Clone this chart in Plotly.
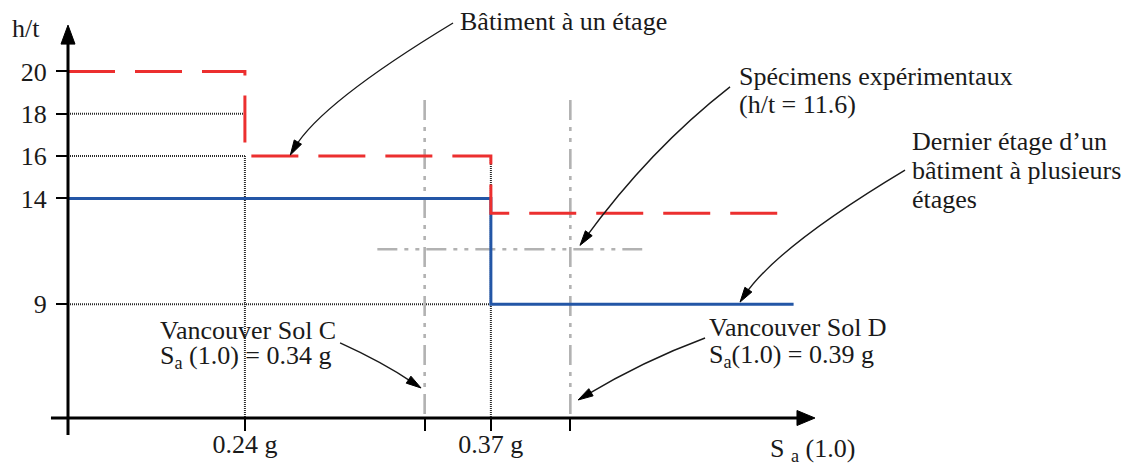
import math
import plotly.graph_objects as go

# ---------------- data ----------------
SA_AXIS_START = 0.1465           # S_a value at the vertical axis
SA_END = 0.53                    # end of the step lines

single_x = [SA_AXIS_START, 0.24, 0.37, SA_END]
single_ht = [20, 16, 13.3, 13.3]          # Bâtiment à un étage

multi_x = [SA_AXIS_START, 0.37, SA_END]
multi_ht = [14, 9, 9]                     # Dernier étage d'un bâtiment à plusieurs étages

site_sa = [0.335, 0.412]                  # Vancouver Sol C / Sol D (drawn positions)
site_top = 18.65
specimen_ht = 11.6
specimen_x = [0.31, 0.45]

ytick_vals = [9, 14, 16, 18, 20]
xtick_vals = [0.24, 0.335, 0.37, 0.412]
xtick_text = ["0.24 g", " ", "0.37 g", " "]

# ---------------- layout constants ----------------
W, H = 1127, 466
ML, MR, MT, MB = 68, 10, 5, 48
X0, X1 = 0.1465, 0.70093
Y0, Y1 = 3.623, 23.14
PW, PH = W - ML - MR, H - MT - MB

FONT = "Liberation Serif"
FS = 26
TXT = "#1a1a1a"
RED = "#ec2f2f"
BLUE = "#2356a6"
GRAY = "#b2b2b2"
DOT = "#2a2a2a"


def xp(v):
    return (v - X0) / (X1 - X0)


def yp(v):
    return (v - Y0) / (Y1 - Y0)


def to_px(x, y):
    return ML + xp(x) * PW, MT + (1 - yp(y)) * PH


def px_to_paper(px, py):
    return (px - ML) / PW, 1 - (py - MT) / PH


fig = go.Figure()

# dotted reference lines
dot_style = dict(color=DOT, width=2, dash="1px,1px")
fig.add_trace(go.Scatter(x=[SA_AXIS_START, 0.24], y=[18, 18], mode="lines", line=dot_style))
fig.add_trace(go.Scatter(x=[SA_AXIS_START, 0.24], y=[16, 16], mode="lines", line=dot_style))
fig.add_trace(go.Scatter(x=[SA_AXIS_START, 0.37], y=[9, 9], mode="lines", line=dot_style))
fig.add_trace(go.Scatter(x=[0.24, 0.24], y=[16, Y0], mode="lines", line=dot_style))
fig.add_trace(go.Scatter(x=[0.37, 0.37], y=[16, Y0], mode="lines", line=dot_style))

# gray dash-dot-dot lines
gray_style = dict(color=GRAY, width=2.6, dash="20px,7px,4px,7px,4px,7px")
for s in site_sa:
    fig.add_trace(go.Scatter(x=[s, s], y=[site_top, Y0], mode="lines", line=gray_style))
fig.add_trace(go.Scatter(x=specimen_x, y=[specimen_ht, specimen_ht], mode="lines", line=gray_style))

# step lines
fig.add_trace(go.Scatter(x=multi_x, y=multi_ht, mode="lines", line_shape="hv",
                         line=dict(color=BLUE, width=3)))
fig.add_trace(go.Scatter(x=single_x, y=single_ht, mode="lines", line_shape="hv",
                         line=dict(color=RED, width=3, dash="47px,20px")))

shapes = []
annotations = []


def line_shape(xa, ya, xb, yb, width=3):
    a = px_to_paper(*to_px(xa, ya))
    b = px_to_paper(*to_px(xb, yb))
    shapes.append(dict(type="line", xref="paper", yref="paper", x0=a[0], y0=a[1],
                       x1=b[0], y1=b[1], line=dict(color="black", width=width)))


def head(tip_px, dir_px, length, half):
    dx, dy = dir_px
    n = math.hypot(dx, dy)
    dx, dy = dx / n, dy / n
    tx, ty = tip_px
    bx, by = tx - length * dx, ty - length * dy
    pts = [(tx, ty), (bx - half * dy, by + half * dx), (bx + half * dy, by - half * dx)]
    pp = [px_to_paper(*p) for p in pts]
    path = "M{},{} L{},{} L{},{} Z".format(pp[0][0], pp[0][1], pp[1][0], pp[1][1], pp[2][0], pp[2][1])
    shapes.append(dict(type="path", xref="paper", yref="paper", path=path,
                       fillcolor="black", line=dict(color="black", width=1)))


# axes with arrows
AX_TIP_X, AX_TIP_Y = 0.5413, 22.19
line_shape(SA_AXIS_START, 2.82, SA_AXIS_START, AX_TIP_Y - 0.6, width=3)
line_shape(0.1375, Y0, AX_TIP_X - 0.006, Y0, width=3)
head(to_px(SA_AXIS_START, AX_TIP_Y), (0, -1), 19, 7)
head(to_px(AX_TIP_X, Y0), (1, 0), 18, 7.5)


def curved_arrow(start, ctrl, tip):
    s = to_px(*start)
    c = to_px(*ctrl)
    t = to_px(*tip)
    d = (t[0] - c[0], t[1] - c[1])
    n = math.hypot(*d)
    sp = px_to_paper(*s)
    cp = px_to_paper(*c)
    ep = px_to_paper(t[0] - 8 * d[0] / n, t[1] - 8 * d[1] / n)
    path = "M{},{} Q{},{} {},{}".format(sp[0], sp[1], cp[0], cp[1], ep[0], ep[1])
    shapes.append(dict(type="path", xref="paper", yref="paper", path=path,
                       line=dict(color="#1a1a1a", width=1.4)))
    head(t, d, 15, 4.2)


curved_arrow((0.350, 22.29), (0.280, 18.5), (0.264, 16.05))
curved_arrow((0.4964, 19.27), (0.4538, 16.30), (0.4171, 11.78))
curved_arrow((0.5889, 15.34), (0.5212, 11.71), (0.5017, 9.10))
curved_arrow((0.2903, 7.168), (0.3125, 6.27), (0.3331, 5.041))
curved_arrow((0.4832, 7.404), (0.4504, 6.317), (0.4161, 4.474))


def text(x, y, s, anchor="left"):
    p = px_to_paper(*to_px(x, y))
    annotations.append(dict(xref="paper", yref="paper", x=p[0], y=p[1], text=s,
                            showarrow=False, xanchor=anchor, yanchor="middle",
                            font=dict(family=FONT, size=FS, color=TXT)))


text(0.1158, 22.05, "h/t")
text(0.3526, 22.34, "Bâtiment à un étage")
text(0.5001, 19.74, "Spécimens expérimentaux")
text(0.5001, 18.46, "(h/t = 11.6)")
text(0.5915, 16.67, "Dernier étage d’un")
text(0.5915, 15.30, "bâtiment à plusieurs")
text(0.5915, 13.97, "étages")
text(0.1941, 7.78, "Vancouver Sol C")
text(0.1941, 6.51, "S<sub>a</sub> (1.0) = 0.34 g")
text(0.4842, 7.88, "Vancouver Sol D")
text(0.4842, 6.55, "S<sub>a</sub>(1.0) = 0.39 g")
text(0.5165, 2.12, "S <sub>a</sub> (1.0)")

fig.update_layout(
    width=W, height=H,
    margin=dict(l=ML, r=MR, t=MT, b=MB, autoexpand=False),
    paper_bgcolor="white", plot_bgcolor="white",
    showlegend=False,
    shapes=shapes, annotations=annotations,
    font=dict(family=FONT, size=FS, color=TXT),
    xaxis=dict(range=[X0, X1], showgrid=False, zeroline=False, showline=False,
               automargin=False,
               tickmode="array", tickvals=xtick_vals, ticktext=xtick_text,
               ticks="outside", ticklen=12, tickwidth=1.5, tickcolor="black",
               ticklabelstandoff=-9,
               tickfont=dict(family=FONT, size=FS, color=TXT)),
    yaxis=dict(range=[Y0, Y1], showgrid=False, zeroline=False, showline=False,
               automargin=False,
               tickmode="array", tickvals=ytick_vals,
               ticks="outside", ticklen=11, tickwidth=1.5, tickcolor="black",
               ticklabelstandoff=4,
               tickfont=dict(family=FONT, size=FS, color=TXT)),
)

fig.write_html("out.html")
